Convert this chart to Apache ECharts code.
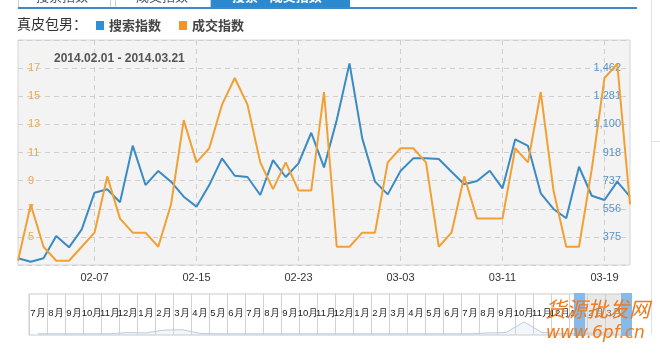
<!DOCTYPE html>
<html><head><meta charset="utf-8">
<script src="https://cdn.jsdelivr.net/npm/echarts@6/dist/echarts.min.js"></script>
<style>html,body{margin:0;padding:0;background:#fff}#c{width:660px;height:357px}</style>
</head><body><div id="c"></div>
<script>
const dates = ['02-01','02-02','02-03','02-04','02-05','02-06','02-07','02-08','02-09','02-10',
  '02-11','02-12','02-13','02-14','02-15','02-16','02-17','02-18','02-19','02-20',
  '02-21','02-22','02-23','02-24','02-25','02-26','02-27','02-28',
  '03-01','03-02','03-03','03-04','03-05','03-06','03-07','03-08','03-09','03-10',
  '03-11','03-12','03-13','03-14','03-15','03-16','03-17','03-18','03-19','03-20','03-21'];
// 搜索指数 (blue, right axis)
const searchIndex = [237, 215, 237, 381, 308, 424, 660, 682, 598, 963,
  709, 800, 731, 634, 570, 709, 881, 769, 761, 645,
  870, 761, 849, 1046, 823, 1128, 1493, 1010, 731, 649,
  800, 881, 881, 877, 795, 714, 735, 801, 688, 1004,
  961, 656, 555, 495, 827, 640, 613, 731, 634];
// 成交指数 (orange, left axis)
const dealIndex = [3.3, 7.3, 4.3, 3.3, 3.3, 4.3, 5.3, 9.3, 6.3, 5.3,
  5.3, 4.3, 7.3, 13.3, 10.3, 11.3, 14.4, 16.3, 14.4, 10.3,
  8.4, 10.3, 8.3, 8.3, 15.3, 4.3, 4.3, 5.3, 5.3, 10.3,
  11.3, 11.3, 10.3, 4.3, 5.3, 9.3, 6.3, 6.3, 6.3, 11.3,
  10.3, 15.3, 8.3, 4.3, 4.3, 9.8, 16.3, 17.3, 7.3];
const leftTickLabels = ['5','7','9','11','13','15','17'];
const rightTickLabels = ['375','556','737','918','1,100','1,281','1,462'];
const months = ['7月','8月','9月','10月','11月','12月',
  '1月','2月','3月','4月','5月','6月','7月','8月','9月','10月','11月','12月',
  '1月','2月','3月','4月','5月','6月','7月','8月','9月','10月','11月','12月',
  '1月','2月','3月'];
const overview = [0.3,0.3,0.3,0.3,0.3,0.6,0.5,1.2,1.3,0.4,0.3,0.3,0.3,0.3,0.3,0.3,0.3,
  0.3,0.3,0.3,0.3,0.3,0.3,0.3,0.3,0.5,0.6,3.2,0.6,0.4,0.4,0.5,0.5];

const LMIN = 3, LMAX = 19, LINT = 2;
const RMIN = 194, RINT = 181.2, RMAX = 194 + 8 * 181.2;
const numFont = 'Liberation Sans, Arial, sans-serif';
const cjkFont = 'Noto Sans CJK SC, sans-serif';
const shownDate = (i) => i >= 6 && (i - 6) % 8 === 0;

const chart = echarts.init(document.getElementById('c'), null, {renderer: 'canvas'});
chart.setOption({
  animation: false,
  title: {
    text: '2014.02.01 - 2014.03.21', left: 49, top: 48,
    textStyle: {fontSize: 12, fontWeight: 'bold', color: '#555', fontFamily: numFont}
  },
  legend: {
    data: ['搜索指数', '成交指数'], left: 91, top: 14, icon: 'rect',
    itemWidth: 8, itemHeight: 9, itemGap: 18,
    textStyle: {fontSize: 13, fontWeight: 'bold', color: '#444', fontFamily: cjkFont}
  },
  grid: [
    {left: 18, top: 40, width: 612, height: 225, show: true,
     backgroundColor: '#f3f3f3', borderColor: '#d6d6d6', borderWidth: 1},
    {left: 29, top: 294, width: 594, height: 41, show: true,
     backgroundColor: '#ffffff', borderColor: '#c9c9c9', borderWidth: 1}
  ],
  xAxis: [
    {type: 'category', gridIndex: 0, data: dates, boundaryGap: false,
     axisLine: {show: false}, axisTick: {show: false},
     axisLabel: {interval: (i) => shownDate(i), margin: 7, fontSize: 11, color: '#333', fontFamily: numFont},
     splitLine: {show: true, interval: (i) => shownDate(i),
       lineStyle: {color: '#cfcfcf', type: [5, 4], width: 1}}},
    {type: 'category', gridIndex: 1, data: months, boundaryGap: true,
     axisLine: {show: false}, axisTick: {show: false},
     axisLabel: {interval: 0, inside: true, margin: 17, fontSize: 9.5, color: '#222',
       fontFamily: numFont, hideOverlap: false},
     splitLine: {show: true, interval: 0, lineStyle: {color: '#d2d2d2', width: 1}}}
  ],
  yAxis: [
    {type: 'value', gridIndex: 0, position: 'left', min: LMIN, max: LMAX, interval: LINT,
     axisLine: {show: false}, axisTick: {show: false},
     axisLabel: {inside: true, margin: 10, fontSize: 11, color: '#eaa84e', fontFamily: numFont,
       formatter: (v) => leftTickLabels[Math.round((v - LMIN) / LINT) - 1] || ''},
     splitLine: {show: true, lineStyle: {color: '#cfcfcf', type: [5, 4], width: 1}}},
    {type: 'value', gridIndex: 0, position: 'right', min: RMIN, max: RMAX, interval: RINT,
     axisLine: {show: false}, axisTick: {show: false},
     axisLabel: {inside: true, margin: 9, fontSize: 11, color: '#5a94c6', fontFamily: numFont,
       formatter: (v) => rightTickLabels[Math.round((v - RMIN) / RINT) - 1] || ''},
     splitLine: {show: false}},
    {type: 'value', gridIndex: 1, min: 0, max: 10, show: false}
  ],
  series: [
    {name: '搜索指数', type: 'line', xAxisIndex: 0, yAxisIndex: 1, data: searchIndex,
     showSymbol: false, symbol: 'none', lineStyle: {width: 2, color: '#3a8bc4'},
     itemStyle: {color: '#2f8ed8'}, z: 3},
    {name: '成交指数', type: 'line', xAxisIndex: 0, yAxisIndex: 0, data: dealIndex,
     showSymbol: false, symbol: 'none', lineStyle: {width: 2, color: '#f2a033'},
     itemStyle: {color: '#f7941d'}, z: 4},
    {name: 'overview', type: 'line', xAxisIndex: 1, yAxisIndex: 2, data: overview,
     showSymbol: false, symbol: 'none', lineStyle: {width: 1, color: '#b9cde0'},
     areaStyle: {color: 'rgba(200,215,230,0.35)'}, silent: true}
  ],
  graphic: [
    // tabs
    {type: 'rect', left: 18, top: -6, shape: {width: 92, height: 13},
     style: {fill: '#fff', stroke: '#cfcfcf', lineWidth: 1}},
    {type: 'rect', left: 115, top: -6, shape: {width: 95, height: 13},
     style: {fill: '#fff', stroke: '#cfcfcf', lineWidth: 1}},
    {type: 'rect', left: 211, top: -6, shape: {width: 139, height: 14},
     style: {fill: '#2c89d0'}},
    {type: 'text', left: 36, top: -10, style: {text: '搜索指数', font: '13px Noto Sans CJK SC', fill: '#555'}},
    {type: 'text', left: 136, top: -10, style: {text: '成交指数', font: '13px Noto Sans CJK SC', fill: '#555'}},
    {type: 'text', left: 232, top: -10, style: {text: '搜索—成交指数', font: 'bold 13px Noto Sans CJK SC', fill: '#fff'}},
    {type: 'rect', left: 18, top: 7, shape: {width: 619, height: 2}, style: {fill: '#3a8cc6'}},
    {type: 'rect', left: 651, top: 0, shape: {width: 1, height: 334}, style: {fill: '#e2e2e2'}},
    {type: 'rect', left: 652, top: 141, shape: {width: 8, height: 1}, style: {fill: '#e2e2e2'}},
    // heading
    {type: 'text', left: 17, top: 17, style: {text: '真皮包男：', font: '14px Noto Sans CJK SC', fill: '#333'}},
    // range selector of the overview strip
    {type: 'rect', left: 585, top: 294, shape: {width: 36, height: 41},
     style: {fill: 'rgba(205,205,205,0.45)'}, z: 50},
    {type: 'rect', left: 574, top: 293, shape: {width: 11, height: 43},
     style: {fill: '#85baea'}, z: 51},
    {type: 'rect', left: 621, top: 293, shape: {width: 11, height: 43},
     style: {fill: '#85baea'}, z: 51},
    // watermark
    {type: 'text', left: 545, top: 299, z: 60,
     style: {text: '货源批发网', font: 'italic 21px Noto Sans CJK SC', fill: '#f07a1c'}},
    {type: 'text', left: 546, top: 325, z: 60,
     style: {text: 'www.6pf.cn', font: 'italic 17px DejaVu Sans', fill: '#f07a1c'}}
  ]
});
</script></body></html>
